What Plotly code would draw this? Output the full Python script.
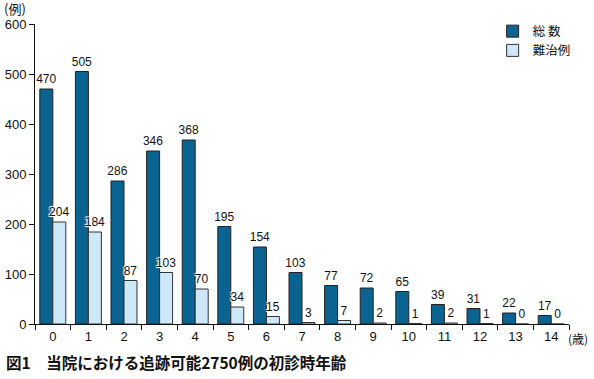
import plotly.graph_objects as go

ages = [str(i) for i in range(15)]
total = [470, 505, 286, 346, 368, 195, 154, 103, 77, 72, 65, 39, 31, 22, 17]
refractory = [204, 184, 87, 103, 70, 34, 15, 3, 7, 2, 1, 2, 1, 0, 0]
y_ticks = [0, 100, 200, 300, 400, 500, 600]

FONT = "Liberation Sans, Arial, Noto Sans CJK JP, sans-serif"
halo = "1px 1px 1px white, -1px -1px 1px white, 1px -1px 1px white, -1px 1px 1px white"

fig = go.Figure()
fig.add_trace(go.Bar(
    x=ages, y=total, name="総 数",
    marker=dict(color="#0b6391", line=dict(color="#222", width=1)),
    text=[str(v) for v in total], textposition="outside",
    constraintext="none",
    textfont=dict(size=12, color="#111", family=FONT, shadow=halo),
    cliponaxis=False,
))
fig.add_trace(go.Bar(
    x=ages, y=refractory, name="難治例",
    marker=dict(color="#cce8f9", line=dict(color="#333", width=1)),
    text=[str(v) for v in refractory], textposition="outside",
    constraintext="none",
    textfont=dict(size=12, color="#111", family=FONT, shadow=halo),
    cliponaxis=False,
))

fig.update_layout(
    width=594, height=379,
    margin=dict(l=35, r=25, t=24, b=55, autoexpand=False),
    paper_bgcolor="white", plot_bgcolor="white",
    barmode="group", bargap=0.27, bargroupgap=0,
    font=dict(family=FONT, size=13, color="#111"),
    showlegend=True,
    legend=dict(x=0.857, y=1.025, xanchor="left", yanchor="top",
                font=dict(size=12.5, family="Noto Sans CJK JP"),
                bgcolor="rgba(0,0,0,0)", tracegroupgap=0,
                itemwidth=30),
    xaxis=dict(type="category", tickson="boundaries", ticks="outside",
               ticklen=5, tickcolor="#111", showline=True, linecolor="#111",
               linewidth=1, showgrid=False, tickfont=dict(size=13),
               range=[-0.5, 14.5], automargin=False),
    yaxis=dict(range=[0, 600], tickvals=y_ticks, ticks="outside", ticklen=5,
               tickcolor="#111", showline=True, linecolor="#111", linewidth=1,
               showgrid=False, zeroline=False, tickfont=dict(size=13),
               automargin=False),
    annotations=[
        dict(text="(例)", xref="paper", yref="paper", x=-0.062, y=1.053,
             xanchor="left", yanchor="middle", showarrow=False,
             font=dict(size=13, family="Noto Sans CJK JP")),
        dict(text="(歳)", xref="paper", yref="paper", x=1.04, y=-0.047,
             xanchor="right", yanchor="middle", showarrow=False,
             font=dict(size=12, family="Noto Sans CJK JP")),
        dict(text="<b>図1　当院における追跡可能2750例の初診時年齢</b>",
             xref="paper", yref="paper", x=-0.058, y=-0.127,
             xanchor="left", yanchor="middle", showarrow=False,
             font=dict(size=15.5, family="Noto Sans CJK JP")),
    ],
)

fig.write_html("out.html", config={"displayModeBar": False},
               post_script="document.body.style.margin='0';document.body.style.padding='0';")
